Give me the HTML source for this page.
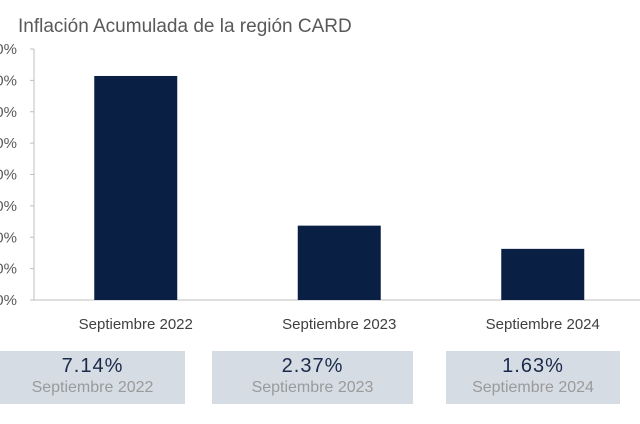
<!DOCTYPE html>
<html><head><meta charset="utf-8"><style>
body{margin:0;width:640px;height:424px;overflow:hidden;background:#fff;font-family:"Liberation Sans",sans-serif;}
.card{position:absolute;top:351px;height:53px;background:#d6dce4;text-align:center;}
.v{font-size:20px;color:#1a2a4a;margin-top:4px;letter-spacing:1px;}
.s{font-size:16px;color:#9a9a9a;margin-top:1px;}
</style></head><body>
<svg id="chart" width="640" height="345" style="position:absolute;left:0;top:0">
<text x="18" y="32" font-size="19" fill="#595959">Inflación Acumulada de la región CARD</text>
<g id="axis"></g><g id="bars"></g>
</svg>
<div class="card" style="left:0;width:185px"><div class="v">7.14%</div><div class="s">Septiembre 2022</div></div>
<div class="card" style="left:212px;width:201px"><div class="v">2.37%</div><div class="s">Septiembre 2023</div></div>
<div class="card" style="left:446px;width:174px"><div class="v">1.63%</div><div class="s">Septiembre 2024</div></div>
<script>
const categories=["Septiembre 2022","Septiembre 2023","Septiembre 2024"];
const values=[7.14,2.37,1.63];
const ticks=[0,1,2,3,4,5,6,7,8];
const ns="http://www.w3.org/2000/svg";
const y0=300,y1=49,vmax=8,xL=34,band=203.5,bw=83;
const y=v=>y0-(v/vmax)*(y0-y1);
const x=i=>xL+band*i+band/2;
const ax=document.getElementById('axis'),bg=document.getElementById('bars');
function mk(t,a,p){const e=document.createElementNS(ns,t);for(const k in a)e.setAttribute(k,a[k]);p.appendChild(e);return e;}
const al=mk('line',{x1:xL,x2:xL,y1:y(vmax),y2:y0,stroke:'#bfbfbf'},ax);


const bl=mk('line',{x1:xL,x2:640,y1:y0,y2:y0,stroke:'#bfbfbf'},ax);


ticks.forEach(t=>{
 const tk=mk('line',{x1:xL-4,x2:xL,y1:y(t),y2:y(t),stroke:'#bfbfbf'},ax);
 
 
 const tx=mk('text',{x:17,y:y(t)+5,'text-anchor':'end','font-size':15,fill:'#595959'},ax);
 
 
 tx.textContent=t.toFixed(2)+'%';
});
values.forEach((v,i)=>{
 const r=mk('rect',{x:x(i)-bw/2,y:y(v),width:bw,height:y0-y(v),fill:'#0a1f44'},bg);
 
 
 const l=mk('text',{x:x(i),y:329,'text-anchor':'middle','font-size':15,fill:'#404040'},bg);
 
 
 l.textContent=categories[i];
});
</script>
</body></html>
